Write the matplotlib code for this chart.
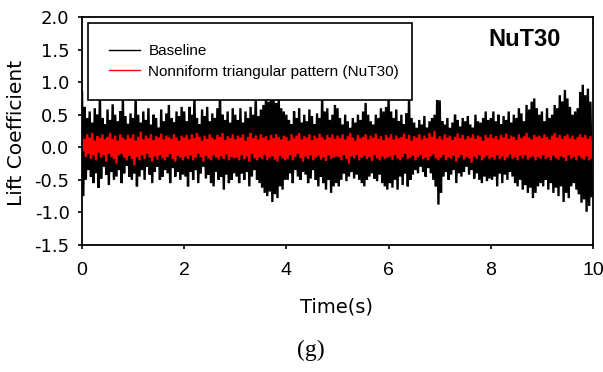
import numpy as np
import matplotlib
matplotlib.use("Agg")
import matplotlib.pyplot as plt
from matplotlib.lines import Line2D

plt.rcParams['axes.unicode_minus'] = False

# Sample spacing of the envelope readings (s)
dt = 0.05

# Baseline: upper / lower peak values read every 0.05 s (t = 0 ... 9.95)
base_hi = [
    0.85, 0.62, 0.45, 0.55, 0.38, 0.6, 0.5, 0.82, 0.45, 0.35, 0.58, 0.42, 0.66, 0.5, 0.4, 0.55, 0.75, 0.48, 0.36, 0.52,
    0.45, 0.8, 0.5, 0.38, 0.55, 0.42, 0.6, 0.35, 0.5, 0.45, 0.3, 0.58, 0.4, 0.52, 0.65, 0.45, 0.38, 0.55, 0.48, 0.62,
    0.55, 0.4, 0.62, 0.5, 0.8, 0.45, 0.35, 0.58, 0.48, 0.62, 0.4, 0.52, 0.45, 0.6, 0.85, 0.5, 0.42, 0.55, 0.38, 0.6,
    0.5, 0.42, 0.6, 0.38, 0.55, 0.45, 0.62, 0.5, 0.8, 0.48, 0.58, 0.65, 0.78, 0.7, 0.85, 0.75, 0.68, 0.8, 0.6, 0.55,
    0.5, 0.42, 0.35, 0.55, 0.45, 0.6, 0.38, 0.5, 0.4, 0.58, 0.48, 0.35, 0.52, 0.45, 0.8, 0.55, 0.6, 0.42, 0.5, 0.65,
    0.6, 0.45, 0.35, 0.5, 0.4, 0.3, 0.45, 0.38, 0.5, 0.42, 0.55, 0.68, 0.5, 0.4, 0.35, 0.5, 0.45, 0.6, 0.55, 0.62,
    0.78, 0.55, 0.45, 0.58, 0.4, 0.5, 0.35, 0.52, 0.78, 0.45, 0.38, 0.3, 0.42, 0.35, 0.48, 0.3, 0.4, 0.45, 0.5, 0.72,
    0.72, 0.4, 0.35, 0.45, 0.3, 0.38, 0.5, 0.42, 0.32, 0.45, 0.4, 0.48, 0.35, 0.3, 0.5, 0.4, 0.38, 0.45, 0.55, 0.42,
    0.45, 0.55, 0.4, 0.5, 0.35, 0.48, 0.42, 0.55, 0.38, 0.5, 0.45, 0.6, 0.52, 0.4, 0.65, 0.58, 0.7, 0.75, 0.6, 0.5,
    0.55, 0.4, 0.6, 0.45, 0.5, 0.65, 0.6, 0.8, 0.7, 0.88, 0.75, 0.62, 0.5, 0.55, 0.6, 0.85, 0.96, 0.8, 0.9, 0.7,
]
base_lo = [
    -0.75, -0.5, -0.35, -0.45, -0.55, -0.4, -0.62, -0.48, -0.3, -0.42, -0.58, -0.38, -0.5, -0.45, -0.35, -0.55, -0.4, -0.28, -0.45, -0.5,
    -0.4, -0.6, -0.45, -0.35, -0.5, -0.3, -0.42, -0.55, -0.38, -0.3, -0.5, -0.45, -0.35, -0.4, -0.55, -0.32, -0.45, -0.38, -0.5, -0.42,
    -0.45, -0.6, -0.38, -0.5, -0.35, -0.55, -0.4, -0.3, -0.48, -0.42, -0.55, -0.6, -0.38, -0.5, -0.45, -0.65, -0.42, -0.55, -0.5, -0.4,
    -0.45, -0.55, -0.4, -0.5, -0.38, -0.6, -0.45, -0.35, -0.5, -0.55, -0.62, -0.7, -0.75, -0.68, -0.84, -0.72, -0.78, -0.6, -0.65, -0.5,
    -0.5, -0.4, -0.55, -0.35, -0.45, -0.5, -0.38, -0.42, -0.55, -0.48, -0.35, -0.5, -0.6, -0.45, -0.55, -0.65, -0.5, -0.7, -0.6, -0.55,
    -0.6, -0.5, -0.4, -0.52, -0.45, -0.38, -0.48, -0.42, -0.5, -0.55, -0.6, -0.5, -0.45, -0.4, -0.48, -0.52, -0.42, -0.55, -0.6, -0.65,
    -0.55, -0.62, -0.5, -0.65, -0.45, -0.58, -0.4, -0.6, -0.5, -0.42, -0.35, -0.4, -0.3, -0.38, -0.45, -0.32, -0.4, -0.5, -0.6, -0.88,
    -0.7, -0.45, -0.38, -0.5, -0.42, -0.35, -0.55, -0.4, -0.45, -0.38, -0.3, -0.42, -0.35, -0.48, -0.4, -0.5, -0.55, -0.45, -0.52, -0.48,
    -0.5, -0.45, -0.6, -0.4, -0.55, -0.42, -0.5, -0.38, -0.45, -0.55, -0.6, -0.5, -0.65, -0.58, -0.7, -0.62, -0.78, -0.7, -0.6, -0.55,
    -0.6, -0.5, -0.65, -0.55, -0.7, -0.62, -0.75, -0.6, -0.84, -0.7, -0.78, -0.6, -0.55, -0.65, -0.72, -0.85, -0.8, -0.99, -0.9, -0.75,
]

# NuT30: upper / lower peak values read every 0.05 s
nut_hi = [
    0.18, 0.12, 0.2, 0.15, 0.22, 0.1, 0.17, 0.14, 0.2, 0.12, 0.16, 0.22, 0.13, 0.18, 0.1, 0.2, 0.15, 0.12, 0.19, 0.14,
    0.2, 0.1, 0.16, 0.24, 0.12, 0.18, 0.14, 0.2, 0.11, 0.17, 0.15, 0.21, 0.12, 0.18, 0.16, 0.13, 0.2, 0.15, 0.1, 0.18,
    0.15, 0.19, 0.12, 0.2, 0.14, 0.22, 0.16, 0.1, 0.18, 0.13, 0.2, 0.15, 0.12, 0.19, 0.16, 0.22, 0.11, 0.17, 0.14, 0.2,
    0.12, 0.18, 0.15, 0.2, 0.1, 0.16, 0.22, 0.14, 0.18, 0.12, 0.2, 0.15, 0.17, 0.11, 0.19, 0.14, 0.2, 0.16, 0.12, 0.18,
    0.16, 0.1, 0.2, 0.14, 0.18, 0.22, 0.12, 0.17, 0.15, 0.2, 0.11, 0.18, 0.14, 0.21, 0.16, 0.12, 0.19, 0.15, 0.2, 0.13,
    0.18, 0.14, 0.2, 0.12, 0.17, 0.22, 0.15, 0.1, 0.19, 0.14, 0.16, 0.2, 0.12, 0.18, 0.15, 0.21, 0.13, 0.17, 0.11, 0.19,
    0.15, 0.2, 0.12, 0.18, 0.14, 0.16, 0.21, 0.13, 0.19, 0.1, 0.17, 0.15, 0.2, 0.12, 0.18, 0.14, 0.22, 0.16, 0.25, 0.13,
    0.17, 0.12, 0.2, 0.15, 0.18, 0.11, 0.16, 0.21, 0.14, 0.19, 0.12, 0.17, 0.15, 0.2, 0.13, 0.18, 0.16, 0.1, 0.19, 0.15,
    0.2, 0.14, 0.17, 0.12, 0.19, 0.15, 0.21, 0.13, 0.18, 0.16, 0.11, 0.2, 0.14, 0.17, 0.22, 0.15, 0.12, 0.19, 0.16, 0.18,
    0.14, 0.2, 0.16, 0.12, 0.18, 0.22, 0.15, 0.19, 0.13, 0.17, 0.2, 0.14, 0.18, 0.12, 0.16, 0.2, 0.15, 0.19, 0.13, 0.17,
]
nut_lo = [
    -0.05, -0.15, -0.1, -0.18, -0.12, -0.2, -0.08, -0.16, -0.12, -0.22, -0.1, -0.15, -0.18, -0.25, -0.12, -0.1, -0.16, -0.2, -0.13, -0.18,
    -0.28, -0.15, -0.2, -0.12, -0.18, -0.1, -0.16, -0.22, -0.14, -0.19, -0.12, -0.17, -0.2, -0.15, -0.1, -0.18, -0.22, -0.13, -0.16, -0.2,
    -0.14, -0.18, -0.12, -0.2, -0.16, -0.1, -0.15, -0.22, -0.13, -0.17, -0.2, -0.12, -0.16, -0.19, -0.14, -0.18, -0.11, -0.2, -0.15, -0.17,
    -0.16, -0.2, -0.12, -0.18, -0.14, -0.22, -0.1, -0.17, -0.2, -0.15, -0.18, -0.12, -0.2, -0.16, -0.14, -0.19, -0.22, -0.13, -0.17, -0.2,
    -0.18, -0.12, -0.2, -0.15, -0.1, -0.17, -0.22, -0.14, -0.18, -0.12, -0.2, -0.16, -0.13, -0.19, -0.15, -0.21, -0.12, -0.18, -0.16, -0.14,
    -0.15, -0.2, -0.12, -0.18, -0.25, -0.14, -0.17, -0.12, -0.2, -0.16, -0.13, -0.18, -0.15, -0.21, -0.12, -0.17, -0.2, -0.14, -0.18, -0.16,
    -0.14, -0.19, -0.12, -0.17, -0.2, -0.15, -0.1, -0.18, -0.16, -0.13, -0.2, -0.15, -0.12, -0.18, -0.16, -0.2, -0.14, -0.11, -0.17, -0.2,
    -0.16, -0.12, -0.2, -0.15, -0.18, -0.13, -0.22, -0.16, -0.12, -0.19, -0.15, -0.17, -0.24, -0.14, -0.18, -0.12, -0.2, -0.16, -0.13, -0.18,
    -0.15, -0.19, -0.12, -0.18, -0.14, -0.2, -0.16, -0.11, -0.18, -0.15, -0.2, -0.13, -0.17, -0.12, -0.19, -0.16, -0.14, -0.2, -0.15, -0.18,
    -0.12, -0.18, -0.15, -0.2, -0.13, -0.17, -0.19, -0.14, -0.16, -0.21, -0.12, -0.18, -0.15, -0.2, -0.13, -0.17, -0.19, -0.14, -0.2, -0.16,
]

x_ticks = [0, 2, 4, 6, 8, 10]
y_ticks = [-1.5, -1.0, -0.5, 0.0, 0.5, 1.0, 1.5, 2.0]
labels = ["Baseline", "Nonniform triangular pattern (NuT30)"]


def zigzag(hi, lo):
    n = len(hi)
    t_hi = np.arange(n) * dt
    t_lo = t_hi + dt / 2
    t = np.column_stack([t_hi, t_lo]).ravel()
    y = np.column_stack([hi, lo]).ravel()
    return t, y


W, H = 603, 372
fig = plt.figure(figsize=(W / 100, H / 100), dpi=100)
ax = fig.add_axes([82 / W, 1 - 245 / H, (593 - 82) / W, (245 - 17) / H])

tb, yb = zigzag(base_hi, base_lo)
tn, yn = zigzag(nut_hi, nut_lo)
ax.plot(tb, yb, color='black', lw=1.7, solid_joinstyle='miter')
ax.plot(tn, yn, color='red', lw=1.6, solid_joinstyle='miter')

ax.set_xlim(0, 10)
ax.set_ylim(-1.5, 2.0)
ax.set_xticks(x_ticks)
ax.set_xticklabels([str(v) for v in x_ticks])
ax.set_yticks(y_ticks)
ax.set_yticklabels([f"{v:.1f}" for v in y_ticks])
ax.tick_params(axis='x', direction='out', length=3, width=1.2, pad=9)
ax.tick_params(axis='y', direction='out', length=3, width=1.2, labelsize=13, pad=6)
for lab in ax.get_xticklabels():
    lab.set_fontfamily('Liberation Sans')
    lab.set_fontsize(14)
for s in ax.spines.values():
    s.set_linewidth(1.3)
    s.set_color('black')

h1 = Line2D([], [], color='black', lw=1.0)
h2 = Line2D([], [], color='red', lw=1.0)
leg = ax.legend([h1, h2], labels, loc='upper left', mode='expand',
                bbox_to_anchor=(6 / 511, 0.0, 324 / 511, 1 - 6 / 228),
                borderaxespad=0, fancybox=False, framealpha=1,
                edgecolor='black', prop={'family': 'Liberation Sans', 'size': 11},
                handlelength=2.0, handletextpad=0.55, labelspacing=0.42,
                borderpad=1.4)
leg.get_frame().set_linewidth(1.2)
leg.set_zorder(5)

ax.text(0.867, 0.9, "NuT30", transform=ax.transAxes, ha='center', va='center',
        family='Liberation Sans', fontweight='bold', fontsize=17)

fig.text(17 / W, 1 - 132.5 / H, "Lift Coefficient", rotation=90, ha='center', va='center',
         family='DejaVu Sans', fontsize=14.5)
fig.text(336 / W, 1 - 307 / H, "Time(s)", ha='center', va='center',
         family='DejaVu Sans', fontsize=14)
fig.text(311 / W, 1 - 350 / H, "(g)", ha='center', va='center',
         family='Liberation Serif', fontsize=17)

fig.savefig("out.png", dpi=100)
